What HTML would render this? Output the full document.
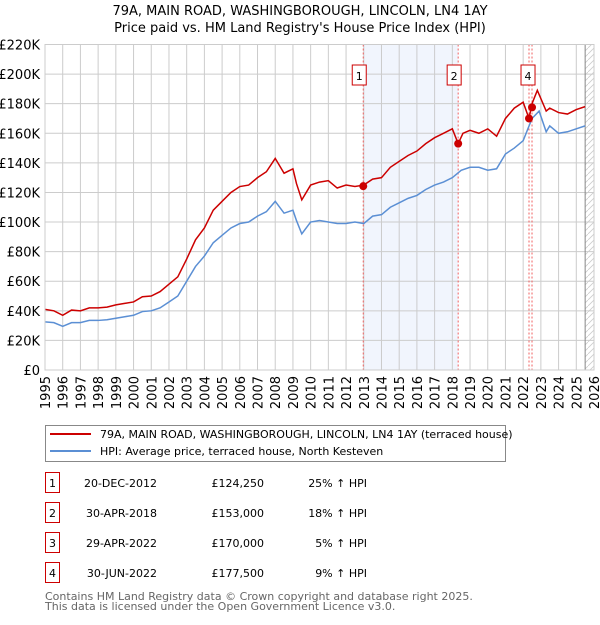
<!DOCTYPE html>
<html><head><meta charset="utf-8"><style>
body{margin:0;background:#fff;font-family:"Liberation Sans","DejaVu Sans",sans-serif;}
svg text{font-family:"DejaVu Sans","Liberation Sans",sans-serif;}
</style></head><body>
<svg id="c" width="600" height="620" xmlns="http://www.w3.org/2000/svg"></svg>
<script>
const years=[1995,1995.5,1996,1996.5,1997,1997.5,1998,1998.5,1999,1999.5,2000,2000.5,2001,2001.5,2002,2002.5,2003,2003.5,2004,2004.5,2005,2005.5,2006,2006.5,2007,2007.5,2008,2008.5,2009,2009.2,2009.5,2010,2010.5,2011,2011.5,2012,2012.5,2013,2013.5,2014,2014.5,2015,2015.5,2016,2016.5,2017,2017.5,2018,2018.5,2019,2019.5,2020,2020.5,2021,2021.5,2022,2022.5,2022.9,2023.3,2023.5,2024,2024.5,2025,2025.5];
const hpiValues=[32.5,32,29.5,32,32,33.5,33.5,34,35,36,37,39.5,40,42,46,50,60,70,77,86,91,96,99,100,104,107,114,106,108,101,92,100,101,100,99,99,100,99,104,105,110,113,116,118,122,125,127,130,135,137,137,135,136,146,150,155,170,175,161,165,160,161,163,165];
const priceYears=[1995,1995.5,1996,1996.5,1997,1997.5,1998,1998.5,1999,1999.5,2000,2000.5,2001,2001.5,2002,2002.5,2003,2003.5,2004,2004.5,2005,2005.5,2006,2006.5,2007,2007.5,2008,2008.5,2009,2009.2,2009.5,2010,2010.5,2011,2011.5,2012,2012.5,2013,2013.5,2014,2014.5,2015,2015.5,2016,2016.5,2017,2017.5,2018,2018.33,2018.6,2019,2019.5,2020,2020.5,2021,2021.5,2022,2022.33,2022.5,2022.8,2023.3,2023.5,2024,2024.5,2025,2025.5];
const priceValues=[41,40,37,40.5,40,42,42,42.5,44,45,46,49.5,50,53,58,63,75,88,96,108,114,120,124,125,130,134,143,133,136,126,115,125,127,128,123,125,124,125,129,130,137,141,145,148,153,157,160,163,153,160,162,160,163,158,170,177,181,170,180,189,175,177,174,173,176,178];
const saleYears=[2012.97,2018.33,2022.33,2022.5];
const salePrices=[124.25,153,170,177.5];
const saleLabels=["1","2","3","4"];
const yTicks=[0,20,40,60,80,100,120,140,160,180,200,220];
const xTicks=[1995,1996,1997,1998,1999,2000,2001,2002,2003,2004,2005,2006,2007,2008,2009,2010,2011,2012,2013,2014,2015,2016,2017,2018,2019,2020,2021,2022,2023,2024,2025,2026];
const rows=[["1","20-DEC-2012","£124,250","25% ↑ HPI"],["2","30-APR-2018","£153,000","18% ↑ HPI"],["3","29-APR-2022","£170,000","5% ↑ HPI"],["4","30-JUN-2022","£177,500","9% ↑ HPI"]];

const X0=45,X1=594,Y0=370,Y1=44.5;
const sx=y=>X0+(y-1995)/(2026-1995)*(X1-X0);
const sy=v=>Y0-v/220*(Y0-Y1);
const svg=document.getElementById('c');
const NS="http://www.w3.org/2000/svg";
function mk(t,a,txt){const e=document.createElementNS(NS,t);for(const k in a)e.setAttribute(k,a[k]);if(txt!==undefined)e.textContent=txt;svg.appendChild(e);return e;}

let t=mk('text',{x:300,y:15,'text-anchor':'middle','font-size':13},"79A, MAIN ROAD, WASHINGBOROUGH, LINCOLN, LN4 1AY");

t=mk('text',{x:300,y:32,'text-anchor':'middle','font-size':13},"Price paid vs. HM Land Registry's House Price Index (HPI)");


let sh=mk('rect',{x:sx(saleYears[0]),y:Y1,width:sx(saleYears[1])-sx(saleYears[0]),height:Y0-Y1,fill:'#eef3fc',opacity:0.8});

const defs=mk('defs',{});
const pat=document.createElementNS(NS,'pattern');pat.setAttribute('id','h');pat.setAttribute('width',6);pat.setAttribute('height',6);pat.setAttribute('patternUnits','userSpaceOnUse');
const pl=document.createElementNS(NS,'path');pl.setAttribute('d','M0,6 L6,0');pl.setAttribute('stroke','#ccc');pl.setAttribute('stroke-width',0.8);pat.appendChild(pl);defs.appendChild(pat);
let hr=mk('rect',{x:sx(2025.5),y:Y1,width:X1-sx(2025.5),height:Y0-Y1,fill:'url(#h)'});


yTicks.forEach(v=>{
 let g=mk('line',{x1:X0,x2:X1,y1:sy(v),y2:sy(v),stroke:'#ccc','stroke-width':1});
 
 let l=mk('text',{x:40,y:sy(v)+5,'text-anchor':'end','font-size':13},v===0?'£0':'£'+v+'K');
 
});
xTicks.forEach(y=>{
 let g=mk('line',{x1:sx(y),x2:sx(y),y1:Y1,y2:Y0,stroke:'#ccc','stroke-width':1});
 
 let l=mk('text',{x:0,y:0,'text-anchor':'end','font-size':13,transform:`translate(${sx(y)+5},${Y0+6}) rotate(-90)`},String(y));
 
});
let vl=mk('line',{x1:sx(2025.5),x2:sx(2025.5),y1:Y1,y2:Y0,stroke:'#888','stroke-width':1});


saleYears.forEach((y,i)=>{
 let l=mk('line',{x1:sx(y),x2:sx(y),y1:Y1,y2:Y0,stroke:'#f06060','stroke-width':1,'stroke-dasharray':'2,2'});
 
});
let hp=mk('polyline',{points:years.map((y,i)=>sx(y)+','+sy(hpiValues[i])).join(' '),fill:'none',stroke:'#5b8fd4','stroke-width':1.5});

let pp=mk('polyline',{points:priceYears.map((y,i)=>sx(y)+','+sy(priceValues[i])).join(' '),fill:'none',stroke:'#cc0000','stroke-width':1.5});

saleYears.forEach((y,i)=>{
 let d=mk('circle',{cx:sx(y),cy:sy(salePrices[i]),r:4,fill:'#cc0000'});
 
});
[0,1,2,3].forEach(i=>{
 if(i===2)return;
 const x=sx(saleYears[i])-11,yb=65;
 let r=mk('rect',{x:x,y:yb,width:14,height:20,fill:'#fff',stroke:'#cc0000','stroke-width':1});
 
 let tx=mk('text',{x:x+7,y:yb+15,'text-anchor':'middle','font-size':11},saleLabels[i]);
 
});
let bx=mk('rect',{x:X0,y:Y1,width:X1-X0,height:Y0-Y1,fill:'none',stroke:'#ccc'});


let lg=mk('rect',{x:45.5,y:425.5,width:460,height:36,fill:'#fff',stroke:'#888'});

let a=mk('line',{x1:50,x2:91,y1:434,y2:434,stroke:'#cc0000','stroke-width':2});
a=mk('text',{x:100,y:438,'font-size':11},"79A, MAIN ROAD, WASHINGBOROUGH, LINCOLN, LN4 1AY (terraced house)");
a=mk('line',{x1:50,x2:91,y1:451,y2:451,stroke:'#5b8fd4','stroke-width':2});
a=mk('text',{x:100,y:455,'font-size':11},"HPI: Average price, terraced house, North Kesteven");

rows.forEach((r,i)=>{
 const y=483+i*30;
 let b=mk('rect',{x:45.5,y:y-10.5,width:14,height:20,fill:'#fff',stroke:'#cc0000'});
 b=mk('text',{x:52.5,y:y+4,'text-anchor':'middle','font-size':11},r[0]);
 b=mk('text',{x:157,y:y+4,'text-anchor':'end','font-size':11},r[1]);
 b=mk('text',{x:264,y:y+4,'text-anchor':'end','font-size':11},r[2]);
 b=mk('text',{x:367,y:y+4,'text-anchor':'end','font-size':11},r[3]);
});
a=mk('text',{x:45,y:600,'font-size':11,fill:'#666'},"Contains HM Land Registry data © Crown copyright and database right 2025.");
a=mk('text',{x:45,y:610,'font-size':11,fill:'#666'},"This data is licensed under the Open Government Licence v3.0.");
</script>
</body></html>
